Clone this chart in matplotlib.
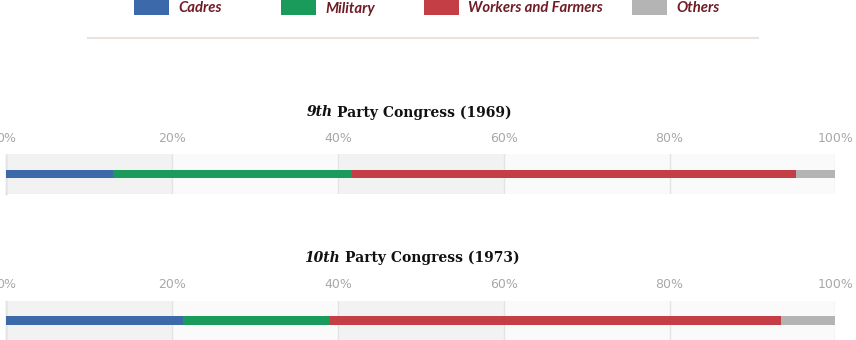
import matplotlib
matplotlib.use("Agg")
import matplotlib.pyplot as plt
from matplotlib.patches import Rectangle
from matplotlib.lines import Line2D
import numpy as np

# data
categories = ["Cadres", "Military", "Workers and Farmers", "Others"]
congress = ["9th", "10th"]
years = [1969, 1973]
cadres = [12.9, 21.3]
military = [28.8, 17.7]
workers = [53.6, 54.4]
others = [4.7, 6.6]
ticks = [0, 20, 40, 60, 80, 100]

colors = ["#3b69a9", "#1a9a5b", "#c33e45", "#b4b4b4"]
band_colors = ["#f2f2f2", "#fafafa", "#f2f2f2", "#fafafa", "#fafafa"]
text_red = "#701c25"

W, H = 856, 340
fig = plt.figure(figsize=(W / 100, H / 100), dpi=100)
renderer = fig.canvas.get_renderer()


def fx(px):
    return px / W


def fy(py):
    return (H - py) / H


# legend across the top
legend_x = [134, 281, 424, 632]
leg_font = dict(fontweight="bold", fontstyle="italic", family="Lato")
# size the legend font from the width of the longest label
probe = fig.text(0, 0, categories[2], fontsize=10, **leg_font)
leg_size = 10 * 135 / probe.get_window_extent(renderer).width
probe.remove()

for name, col, x in zip(categories, colors, legend_x):
    fig.add_artist(Rectangle((fx(x), fy(14.7)), fx(35), 14.7 / H + 0.02,
                             transform=fig.transFigure, color=col, lw=0))
    fig.text(fx(x + 44), fy(12.5), name, color=text_red, fontsize=leg_size,
             va="baseline", **leg_font)

fig.add_artist(Line2D([fx(88), fx(758)], [fy(38), fy(38)],
                      transform=fig.transFigure, color="#ebe3d9", lw=1.5))

# one axes per congress
axes_top = [154.5, 301]
title_base = [116.5, 262]
title_center = [409, 412]

values = np.array([cadres, military, workers, others])

for i in range(len(congress)):
    top = axes_top[i]
    ax = fig.add_axes([fx(6.3), fy(top + 39), fx(829), 39 / H])
    ax.set_facecolor("none")
    ax.set_xlim(0, 100)
    ax.set_ylim(-0.5, 0.5)

    for j in range(len(ticks) - 1):
        ax.axvspan(ticks[j], ticks[j + 1], color=band_colors[j], lw=0, zorder=0.5)

    left = 0
    for k in range(len(categories)):
        ax.barh(0, values[k, i], left=left, height=0.21, color=colors[k],
                lw=0, zorder=3)
        left += values[k, i]

    ax.set_axisbelow(False)
    ax.grid(axis="x", color="#e4e4e4", lw=1)
    ax.set_yticks([])
    ax.xaxis.tick_top()
    ax.set_xticks(ticks)
    ax.set_xticklabels([f"{t}%" for t in ticks])
    ax.tick_params(axis="x", length=0, pad=7, labelsize=9, labelcolor="#a8a8a8")
    for s in ["top", "right", "bottom"]:
        ax.spines[s].set_visible(False)
    ax.spines["left"].set_color("#c8c8c8")
    ax.spines["left"].set_linewidth(1)

    # title with the ordinal in italics
    t1 = fig.text(0, fy(title_base[i]), congress[i], fontsize=10,
                  fontweight="bold", fontstyle="italic", family="DejaVu Serif",
                  va="baseline", color="#111111")
    t2 = fig.text(0, fy(title_base[i]), f"Party Congress ({years[i]})",
                  fontsize=10, fontweight="bold", family="DejaVu Serif",
                  va="baseline", color="#111111")
    w1 = t1.get_window_extent(renderer).width
    w2 = t2.get_window_extent(renderer).width
    gap = 4.5
    x0 = title_center[i] - (w1 + gap + w2) / 2
    t1.set_x(fx(x0))
    t2.set_x(fx(x0 + w1 + gap))

fig.savefig("out.png", dpi=100)
